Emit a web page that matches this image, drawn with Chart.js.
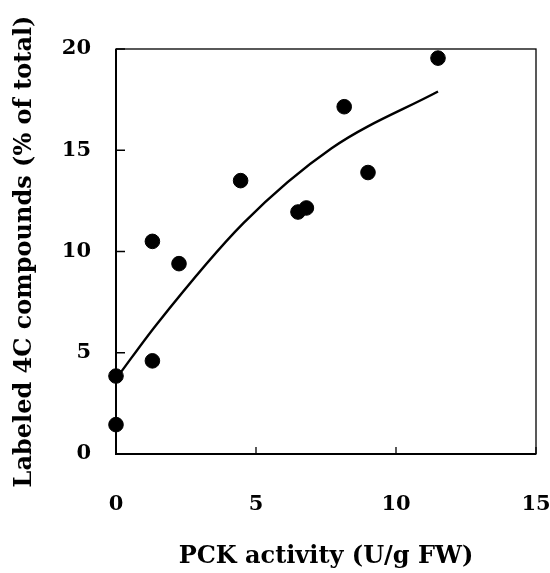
<!DOCTYPE html>
<html>
<head>
<meta charset="utf-8">
<script src="https://cdn.jsdelivr.net/npm/chart.js@4/dist/chart.umd.min.js"></script>
<style>
  html, body { margin: 0; padding: 0; background: #fff; }
  #wrap { width: 550px; height: 573px; }
</style>
</head>
<body>
<div id="wrap"><canvas id="chart" width="550" height="573"></canvas></div>
<script>
// measured points
const pckX = [0, 0, 1.3, 1.3, 2.25, 4.45, 6.5, 6.8, 8.15, 9.0, 11.5];
const labeledY = [3.85, 1.45, 10.5, 4.6, 9.4, 13.5, 11.95, 12.15, 17.15, 13.9, 19.55];

// fitted curve
const curveX = [0.1, 1.45, 4.55, 7.7, 11.5];
const curveY = [3.9, 6.4, 11.4, 15.1, 17.9];

const xTicks = [0, 5, 10, 15];
const yTicks = [0, 5, 10, 15, 20];

const serif = "'DejaVu Serif', 'Liberation Serif', serif";

// box around plot + inward tick marks
const framePlugin = {
    id: 'frame',
    beforeDatasetsDraw(chart) {
        const { ctx, chartArea: a, scales } = chart;
        ctx.save();
        ctx.strokeStyle = '#000';
        ctx.lineWidth = 1.3;
        ctx.strokeRect(a.left, a.top, a.right - a.left, a.bottom - a.top);
        ctx.lineWidth = 2;
        ctx.beginPath();
        ctx.moveTo(a.left, a.top);
        ctx.lineTo(a.left, a.bottom);
        ctx.lineTo(a.right, a.bottom);
        ctx.stroke();
        ctx.lineWidth = 1.3;
        ctx.beginPath();
        yTicks.forEach(v => {
            const y = scales.y.getPixelForValue(v);
            ctx.moveTo(a.left, y);
            ctx.lineTo(a.left + 9, y);
        });
        xTicks.forEach(v => {
            const x = scales.x.getPixelForValue(v);
            ctx.moveTo(x, a.bottom);
            ctx.lineTo(x, a.bottom - 7);
        });
        ctx.stroke();
        ctx.restore();
    }
};

new Chart(document.getElementById('chart'), {
    type: 'scatter',
    data: {
        datasets: [
            {
                label: 'data',
                data: pckX.map((x, i) => ({ x, y: labeledY[i] })),
                backgroundColor: '#000',
                borderColor: '#000',
                pointRadius: 7.3,
                pointHoverRadius: 7.3,
                clip: false
            },
            {
                label: 'fit',
                data: curveX.map((x, i) => ({ x, y: curveY[i] })),
                showLine: true,
                borderColor: '#000',
                borderWidth: 2.4,
                pointRadius: 0,
                cubicInterpolationMode: 'monotone',
                clip: false
            }
        ]
    },
    options: {
        responsive: false,
        animation: false,
        events: [],
        layout: {
            padding: { left: 0, right: 14, top: 49, bottom: 0 }
        },
        plugins: {
            legend: { display: false },
            tooltip: { enabled: false }
        },
        scales: {
            x: {
                type: 'linear',
                min: 0,
                max: 15,
                afterFit: (s) => { s.height = 119; s.paddingLeft = 0; s.paddingRight = 0; },
                afterBuildTicks: (s) => { s.ticks = xTicks.map(v => ({ value: v })); },
                grid: { display: false },
                border: { display: false },
                ticks: {
                    padding: 30,
                    color: '#000',
                    font: { size: 21, weight: 'bold', family: serif }
                },
                title: {
                    display: true,
                    text: 'PCK activity (U/g FW)',
                    color: '#000',
                    padding: { top: 0, bottom: 2 },
                    font: { size: 24, weight: 'bold', family: serif }
                }
            },
            y: {
                type: 'linear',
                min: 0,
                max: 20,
                afterFit: (s) => { s.width = 116; s.paddingTop = 0; s.paddingBottom = 0; },
                afterBuildTicks: (s) => { s.ticks = yTicks.map(v => ({ value: v })); },
                grid: { display: false },
                border: { display: false },
                ticks: {
                    padding: 17,
                    color: '#000',
                    font: { size: 21, weight: 'bold', family: serif }
                },
                title: {
                    display: true,
                    text: 'Labeled 4C compounds (% of total)',
                    color: '#000',
                    padding: { top: 10, bottom: 0 },
                    font: { size: 24, weight: 'bold', family: serif }
                }
            }
        }
    },
    plugins: [framePlugin]
});
</script>
</body>
</html>
